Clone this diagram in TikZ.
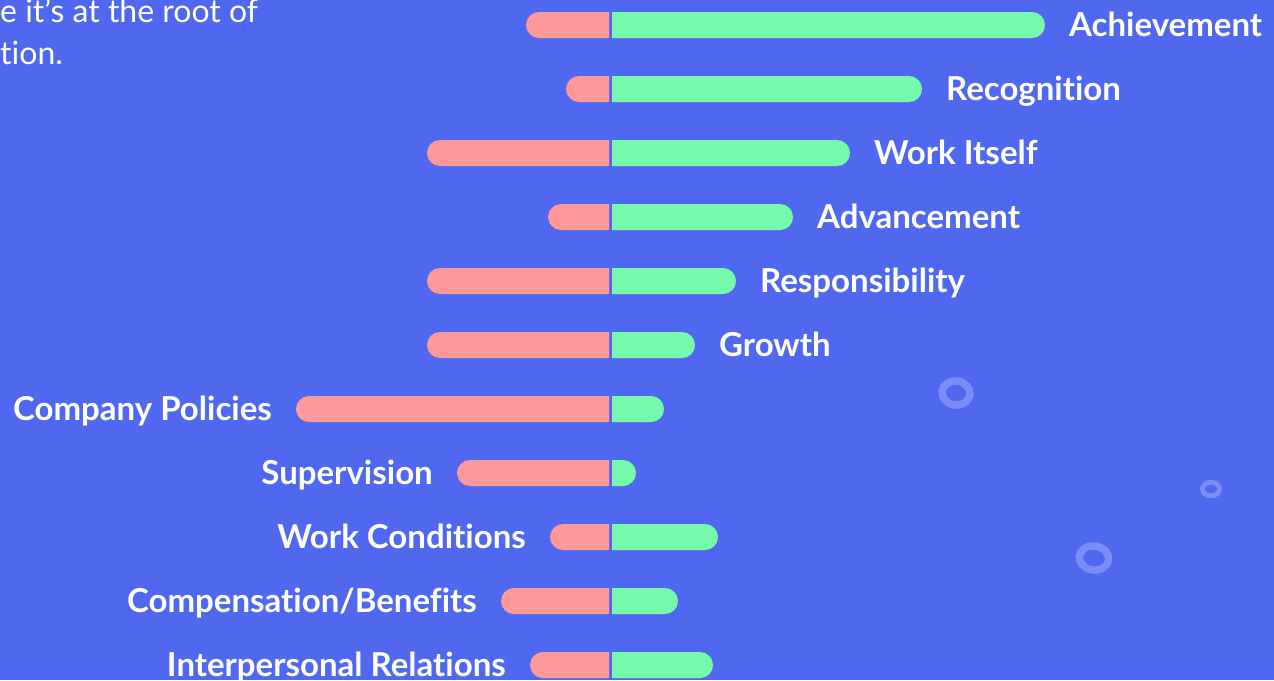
\documentclass[tikz,border=0pt]{standalone}
\usepackage{fontspec}
\setmainfont{Lato}[Ligatures=CommonOff]
\definecolor{bg}{RGB}{80,104,240}
\definecolor{ringc}{RGB}{122,140,247}
\definecolor{salmon}{RGB}{255,153,153}
\definecolor{mint}{RGB}{116,250,170}
\newcommand\chartbars[3]{% #1 y, #2 red start, #3 green end
  \begin{scope}
    \clip (0,#1-13) rectangle (609,#1+13);
    \fill[salmon, rounded corners=13pt] (#2,#1-13) rectangle (640,#1+13);
  \end{scope}
  \begin{scope}
    \clip (612,#1-13) rectangle (1274,#1+13);
    \fill[mint, rounded corners=13pt] (580,#1-13) rectangle (#3,#1+13);
  \end{scope}}
\begin{document}
\begin{tikzpicture}[x=1pt,y=-1pt,
  lbl/.style={text=white, font=\bfseries\fontsize{33}{33}\selectfont, inner sep=0pt, text height=23pt, text depth=0pt},
  intro/.style={text=white, font=\fontsize{32}{32}\selectfont, inner sep=0pt, anchor=base west},
  ring/.style={draw=ringc}]
\useasboundingbox (0,0) rectangle (1274,680);
\clip (0,0) rectangle (1274,680);
\fill[bg] (0,0) rectangle (1274,680);
% intro text (cut off)
\node[intro] (t1) at (0,22) {e it’s at the root of};
\node[intro] (t2) at (0,64) {tion.};
% decorative rings
\draw[ring, line width=7.5pt, rotate around={-8:(956,393)}] (956,393) ellipse [x radius=14, y radius=12];
\draw[ring, line width=4.8pt] (1211,489) ellipse [x radius=8.6, y radius=6.8];
\draw[ring, line width=7.5pt, rotate around={-8:(1094,558)}] (1094,558) ellipse [x radius=14.8, y radius=12];
% bars
\chartbars{25}{526}{1045}
\chartbars{89}{566}{922}
\chartbars{153}{427}{850}
\chartbars{217}{548}{793}
\chartbars{281}{427}{736}
\chartbars{345}{427}{695}
\chartbars{409}{296}{664}
\chartbars{473}{457}{636}
\chartbars{537}{550}{718}
\chartbars{601}{501}{678}
\chartbars{665}{530}{713}
% labels right
\node[lbl, anchor=west] (achievement) at (1069,25) {Achievement};
\node[lbl, anchor=west] (recognition) at (946,89) {Recognition};
\node[lbl, anchor=west] (workitself) at (874,153) {Work Itself};
\node[lbl, anchor=west] (advancement) at (817,217) {Advancement};
\node[lbl, anchor=west] (responsibility) at (760,281) {Responsibility};
\node[lbl, anchor=west] (growth) at (719,345) {Growth};
% labels left
\node[lbl, anchor=east] (policies) at (272,409) {Company Policies};
\node[lbl, anchor=east] (supervision) at (433,473) {Supervision};
\node[lbl, anchor=east] (conditions) at (526,537) {Work Conditions};
\node[lbl, anchor=east] (compensation) at (477,601) {Compensation/Benefits};
\node[lbl, anchor=east] (relations) at (506,665) {Interpersonal Relations};
\end{tikzpicture}
\end{document}
